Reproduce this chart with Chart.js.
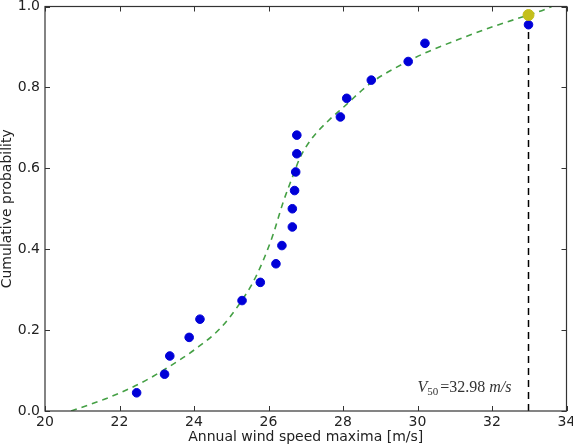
<!DOCTYPE html>
<html>
<head>
<meta charset="utf-8">
<script src="https://cdn.jsdelivr.net/npm/chart.js@4"></script>
<style>
	html, body { margin: 0; padding: 0; background: #ffffff; }
	canvas { display: block; }
</style>
</head>
<body>
<canvas id="gumbel" width="573" height="448"></canvas>
<script>
// annual maxima, sorted, with their plotting positions
const windSpeed = [22.46, 23.21, 23.35, 23.87, 24.16, 25.29, 25.78, 26.2, 26.36, 26.64, 26.64,
	26.7, 26.73, 26.76, 26.76, 27.93, 28.1, 28.76, 29.75, 30.2, 32.98];
const cumProb = [0.045, 0.091, 0.136, 0.182, 0.227, 0.273, 0.318, 0.364, 0.409, 0.455, 0.5,
	0.545, 0.591, 0.636, 0.682, 0.727, 0.773, 0.818, 0.864, 0.909, 0.955];
// fitted distribution
const curveX = [20.7, 21.65, 22.55, 23.25, 24.05, 24.7, 25.2, 25.65, 26.1, 26.4, 26.65, 26.85,
	27.15, 27.6, 28.0, 28.75, 29.75, 30.3, 31.2, 32.05, 32.98, 33.4, 33.6];
const curveY = [0, 0.031, 0.068, 0.105, 0.154, 0.204, 0.262, 0.33, 0.43, 0.518, 0.58, 0.627,
	0.672, 0.717, 0.75, 0.811, 0.865, 0.889, 0.922, 0.951, 0.979, 0.992, 1.0];
// 50-year return value
const v50 = 32.98;
const v50Prob = 0.979;
const xTicks = [20, 22, 24, 26, 28, 30, 32, 34];
const yTicks = [0, 0.2, 0.4, 0.6, 0.8, 1.0];

const toPoints = (xs, ys) => xs.map((x, i) => ({ x: x, y: ys[i] }));

// box round the plot with inward ticks on all four sides, plus the V50 label
const frameAndTicks = {
	id: "frameAndTicks",
	afterDatasetsDraw(chart) {
		const { ctx, chartArea: a, scales } = chart;
		ctx.save();
		ctx.strokeStyle = "#333333";
		ctx.lineWidth = 1.2;
		ctx.strokeRect(a.left, a.top, a.right - a.left, a.bottom - a.top);
		ctx.lineWidth = 1;
		ctx.beginPath();
		xTicks.forEach((t) => {
			const px = Math.round(scales.x.getPixelForValue(t)) + 0.5;
			ctx.moveTo(px, a.bottom); ctx.lineTo(px, a.bottom - 5);
			ctx.moveTo(px, a.top); ctx.lineTo(px, a.top + 5);
		});
		yTicks.forEach((t) => {
			const py = Math.round(scales.y.getPixelForValue(t)) + 0.5;
			ctx.moveTo(a.left, py); ctx.lineTo(a.left + 5, py);
			ctx.moveTo(a.right, py); ctx.lineTo(a.right - 5, py);
		});
		ctx.stroke();

		// V_50 = 32.98 m/s
		let px = scales.x.getPixelForValue(30.0);
		const py = scales.y.getPixelForValue(0.047);
		ctx.fillStyle = "#333333";
		ctx.textBaseline = "alphabetic";
		ctx.textAlign = "left";
		const parts = [
			["italic 16px 'Liberation Serif'", "V", 0],
			["11px 'Liberation Serif'", "50", 3],
			["16px 'Liberation Serif'", "=32.98 ", 0],
			["italic 16px 'Liberation Serif'", "m/s", 0],
		];
		parts.forEach(([font, text, drop]) => {
			ctx.font = font;
			ctx.fillText(text, px, py + drop);
			px += ctx.measureText(text).width + (text === "50" ? 2 : 0);
		});
		ctx.restore();
	},
};

const ctx = document.getElementById("gumbel");
new Chart(ctx, {
	type: "scatter",
	data: {
		datasets: [
			{
				label: "V50",
				data: [{ x: v50, y: v50Prob }],
				backgroundColor: "#c4bf1c",
				borderColor: "#c4bf1c",
				pointRadius: 5.5,
				order: 0,
			},
			{
				label: "observed",
				data: toPoints(windSpeed, cumProb),
				backgroundColor: "#0000d8",
				borderColor: "#0000d8",
				pointRadius: 4.3,
				order: 1,
			},
			{
				label: "fit",
				data: toPoints(curveX, curveY),
				showLine: true,
				borderColor: "#45a045",
				borderWidth: 1.6,
				borderDash: [6, 5],
				pointRadius: 0,
				cubicInterpolationMode: "monotone",
				order: 2,
			},
			{
				label: "return level",
				data: toPoints([v50, v50], [0, v50Prob]),
				showLine: true,
				borderColor: "#000000",
				borderWidth: 1.5,
				borderDash: [7, 5],
				pointRadius: 0,
				order: 3,
			},
		],
	},
	options: {
		responsive: false,
		animation: false,
		layout: { padding: { top: 5, right: 4, left: 0, bottom: 0 } },
		plugins: {
			legend: { display: false },
			tooltip: { enabled: false },
		},
		scales: {
			x: {
				type: "linear",
				min: 20,
				max: 34,
				afterBuildTicks: (scale) => { scale.ticks = xTicks.map((v) => ({ value: v })); },
				afterFit: (scale) => {
					scale.height = 37;
					scale.paddingLeft = 0;
					scale.paddingRight = 0;
				},
				grid: { display: false, drawTicks: false },
				border: { display: false },
				ticks: {
					padding: 3,
					maxRotation: 0,
					color: "#222222",
					font: { family: "'DejaVu Sans'", size: 14 },
				},
				title: {
					display: true,
					text: "Annual wind speed maxima [m/s]",
					color: "#222222",
					font: { family: "'DejaVu Sans'", size: 14 },
					padding: { top: 0, bottom: 2 },
				},
			},
			y: {
				min: 0,
				max: 1,
				afterBuildTicks: (scale) => { scale.ticks = yTicks.map((v) => ({ value: v })); },
				afterFit: (scale) => {
					scale.width = 45;
					scale.paddingTop = 0;
					scale.paddingBottom = 0;
				},
				grid: { display: false, drawTicks: false },
				border: { display: false },
				ticks: {
					padding: 5,
					color: "#222222",
					font: { family: "'DejaVu Sans'", size: 14 },
					callback: (v) => v.toFixed(1),
				},
				title: {
					display: true,
					text: "Cumulative probability",
					color: "#222222",
					font: { family: "'DejaVu Sans'", size: 14, lineHeight: 1 },
					padding: 0,
				},
			},
		},
	},
	plugins: [frameAndTicks],
});
</script>
</body>
</html>
